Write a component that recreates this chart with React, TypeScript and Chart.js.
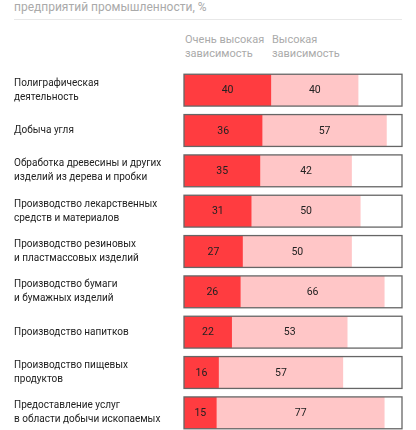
import React, { useEffect, useRef } from 'react';
import { Chart, registerables } from 'chart.js';

Chart.register(...registerables);

// Industry categories (multi-line labels)
const categories: (string | string[])[] = [
  ['Полиграфическая', 'деятельность'],
  'Добыча угля',
  ['Обработка древесины и других', 'изделий из дерева и пробки'],
  ['Производство лекарственных', 'средств и материалов'],
  ['Производство резиновых', 'и пластмассовых изделий'],
  ['Производство бумаги', 'и бумажных изделий'],
  'Производство напитков',
  ['Производство пищевых', 'продуктов'],
  ['Предоставление услуг', 'в области добычи ископаемых'],
];

// Share of enterprises, %
const veryHigh = [40, 36, 35, 31, 27, 26, 22, 16, 15];
const high = [40, 57, 42, 50, 50, 66, 53, 57, 77];

const seriesNames = ['Очень высокая зависимость', 'Высокая зависимость'];

const FONT = 'Roboto, "Noto Sans", sans-serif';

// frame around each 0..100 bar + value labels
const barDecor = {
  id: 'barDecor',
  afterDatasetsDraw(chart: any) {
    const ctx = chart.ctx;
    const x = chart.scales.x;
    const x0 = x.getPixelForValue(0);
    const x1 = x.getPixelForValue(100);

    chart.data.datasets.forEach((ds: any, i: number) => {
      const meta = chart.getDatasetMeta(i);
      meta.data.forEach((bar: any, j: number) => {
        const props = bar.getProps(['x', 'base', 'y'], true);
        ctx.save();
        ctx.fillStyle = '#222';
        ctx.font = '10.5px ' + FONT;
        ctx.textAlign = 'center';
        ctx.textBaseline = 'middle';
        ctx.fillText(String(ds.data[j]), (props.x + props.base) / 2, props.y + 0.5);
        ctx.restore();
      });
    });

    const meta0 = chart.getDatasetMeta(0);
    meta0.data.forEach((bar: any) => {
      const { y, height } = bar.getProps(['y', 'height'], true);
      ctx.save();
      ctx.strokeStyle = '#666';
      ctx.lineWidth = 1.3;
      ctx.strokeRect(x0, y - height / 2, x1 - x0, height);
      ctx.restore();
    });
  },
};

const App: React.FC = () => {
  const canvasRef = useRef<HTMLCanvasElement>(null);

  useEffect(() => {
    if (!canvasRef.current) return;
    const chart = new Chart(canvasRef.current, {
      type: 'bar',
      data: {
        labels: categories,
        datasets: [
          {
            label: seriesNames[0],
            data: veryHigh,
            backgroundColor: '#FF3C40',
            borderWidth: 0,
            barPercentage: 1,
            categoryPercentage: 0.79,
          },
          {
            label: seriesNames[1],
            data: high,
            backgroundColor: '#FFC6C7',
            borderWidth: 0,
            barPercentage: 1,
            categoryPercentage: 0.79,
          },
        ],
      },
      options: {
        indexAxis: 'y',
        animation: false,
        responsive: true,
        maintainAspectRatio: false,
        layout: { padding: { left: 14, right: 14, top: 70, bottom: 1 } },
        plugins: {
          legend: { display: false },
          tooltip: { enabled: false },
        },
        scales: {
          x: {
            stacked: true,
            min: 0,
            max: 100,
            display: false,
          },
          y: {
            stacked: true,
            grid: { display: false },
            border: { display: false },
            afterFit: (scale: any) => {
              scale.width = 170;
              scale.paddingTop = 0;
              scale.paddingBottom = 0;
            },
            ticks: {
              crossAlign: 'far',
              padding: 0,
              color: '#222',
              font: { family: FONT, size: 10, lineHeight: 1.4 },
            },
          },
        },
      },
      plugins: [barDecor],
    });
    return () => chart.destroy();
  }, []);

  return (
    <div
      style={{
        position: 'fixed',
        left: 0,
        top: 0,
        width: 416,
        height: 430,
        overflow: 'hidden',
        background: '#fff',
        fontFamily: FONT,
      }}
    >
      <div
        style={{
          position: 'absolute',
          left: 14,
          top: -1,
          fontSize: 12,
          lineHeight: '17px',
          color: '#aaa',
          whiteSpace: 'nowrap',
        }}
      >
        предприятий промышленности, %
      </div>
      <div
        style={{
          position: 'absolute',
          left: 14,
          top: 19,
          width: 388,
          height: 1,
          background: '#e8e8e8',
        }}
      />
      <div
        style={{
          position: 'absolute',
          left: 185,
          top: 33,
          fontSize: 11,
          lineHeight: '13.5px',
          color: '#aaa',
        }}
      >
        Очень высокая
        <br />
        зависимость
      </div>
      <div
        style={{
          position: 'absolute',
          left: 272,
          top: 33,
          fontSize: 11,
          lineHeight: '13.5px',
          color: '#aaa',
        }}
      >
        Высокая
        <br />
        зависимость
      </div>
      <div style={{ position: 'absolute', left: 0, top: 0, width: 416, height: 434 }}>
        <canvas ref={canvasRef}></canvas>
      </div>
    </div>
  );
};

export default App;
